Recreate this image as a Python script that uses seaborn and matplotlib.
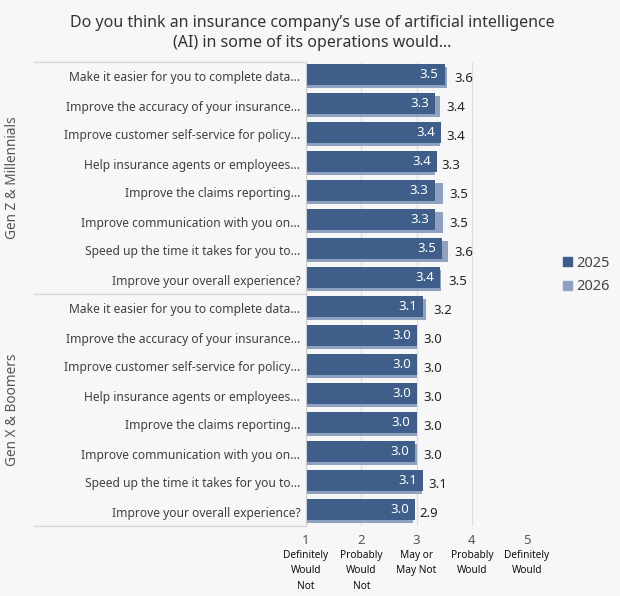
import matplotlib
matplotlib.use("Agg")
import matplotlib.pyplot as plt
import matplotlib.transforms as mtransforms
from matplotlib.patches import Patch
import numpy as np
import pandas as pd
import seaborn as sns

# datos
preguntas = [
    "Make it easier for you to complete data...",
    "Improve the accuracy of your insurance...",
    "Improve customer self-service for policy...",
    "Help insurance agents or employees...",
    "Improve the claims reporting...",
    "Improve communication with you on...",
    "Speed up the time it takes for you to...",
    "Improve your overall experience?",
]
grupos = ["Gen Z & Millennials", "Gen X & Boomers"]
valores_2025 = [3.51, 3.34, 3.44, 3.37, 3.33, 3.34, 3.46, 3.43,
                3.12, 3.01, 3.01, 3.01, 3.00, 2.98, 3.12, 2.97]
valores_2026 = [3.56, 3.42, 3.42, 3.33, 3.48, 3.48, 3.57, 3.45,
                3.18, 3.00, 3.00, 3.00, 3.00, 3.00, 3.10, 2.93]
escala_ticks = [1, 2, 3, 4, 5]
escala_textos = ["Definitely\nWould\nNot", "Probably\nWould\nNot", "May or\nMay Not",
                 "Probably\nWould", "Definitely\nWould"]
titulo = "Do you think an insurance company\u2019s use of artificial intelligence\n(AI) in some of its operations would\u2026"

color_2025 = "#3f5f8a"
color_2026 = "#8ea1c1"
fondo = "#f7f7f7"

sns.set_style("white")
plt.rcParams["font.family"] = ["Noto Sans", "DejaVu Sans"]

filas = np.arange(len(valores_2025))
df = pd.DataFrame({"pos": filas, "v25": valores_2025, "v26": valores_2026})
etiquetas = preguntas * len(grupos)

fig = plt.figure(figsize=(6.2, 5.96), dpi=100, facecolor=fondo)
ax = fig.add_axes([306 / 620, 1 - 526 / 596, 221 / 620, 464 / 596])
ax.set_facecolor(fondo)

# barras 2026 (detras, un poco mas abajo)
sns.barplot(x=df["v26"], y=df["pos"] + 0.03, orient="h", native_scale=True,
            color=color_2026, width=0.72, saturation=1, linewidth=0, ax=ax)
# barras 2025 (delante)
sns.barplot(x=df["v25"], y=df["pos"] - 0.07, orient="h", native_scale=True,
            color=color_2025, width=0.72, saturation=1, linewidth=0, ax=ax)

ax.set_xlim(1, 5)
ax.set_ylim(len(filas) - 0.5, -0.5)
ax.set_xlabel("")
ax.set_ylabel("")
ax.set_yticks(filas, labels=etiquetas)
ax.set_xticks(escala_ticks, labels=[str(t) for t in escala_ticks])
ax.tick_params(axis="y", length=0, pad=4, labelsize=8.7, labelcolor="#404040")
ax.tick_params(axis="x", length=0, pad=6, labelsize=9.5, labelcolor="#555555")
ax.grid(axis="x", color="#dddddd", linewidth=0.9)
ax.set_axisbelow(True)
for lado in ["top", "right", "bottom"]:
    ax.spines[lado].set_visible(False)
ax.spines["left"].set_color("#cccccc")

# etiquetas de valores
for i in filas:
    ax.text(valores_2025[i] - 0.11, i - 0.07, f"{valores_2025[i]:.1f}", ha="right", va="center",
            color="white", fontsize=9.5)
    ax.text(valores_2026[i] + 0.12, i + 0.06, f"{valores_2026[i]:.1f}", ha="left", va="center",
            color="#222222", fontsize=9.5)

# lineas que separan los grupos en la zona de etiquetas
mezcla = mtransforms.blended_transform_factory(ax.transAxes, ax.transData)
x_ini = (33 - 306) / 221
for y in [-0.5, len(preguntas) - 0.5, len(filas) - 0.5]:
    ax.plot([x_ini, 0], [y, y], transform=mezcla, color="#d8d8d8", linewidth=1, clip_on=False)

for g, nombre in enumerate(grupos):
    centro = g * len(preguntas) + (len(preguntas) - 1) / 2
    ax.text((13 - 306) / 221, centro, nombre, transform=mezcla,
            rotation=90, ha="center", va="center", fontsize=9.8, color="#555555")

# textos de la escala bajo los numeros
mezcla_x = mtransforms.blended_transform_factory(ax.transData, ax.transAxes)
for t, texto in zip(escala_ticks, escala_textos):
    ax.text(t, -24 / 464, texto, transform=mezcla_x, ha="center", va="top",
            fontsize=7.3, color="#111111", linespacing=1.55)

fig.text(0.503, 1 - 33 / 596, titulo, ha="center", va="center", fontsize=11.5,
         color="#333333", linespacing=1.3)

manejadores = [Patch(color=color_2025, label="2025"), Patch(color=color_2026, label="2026")]
fig.legend(handles=manejadores, loc="center left", bbox_to_anchor=(550 / 620, 1 - 275 / 596),
           frameon=False, fontsize=10.5, handlelength=0.6, handleheight=0.6,
           handletextpad=0.3, labelspacing=0.6, labelcolor="#444444")

fig.savefig("out.png", dpi=100, facecolor=fondo)
